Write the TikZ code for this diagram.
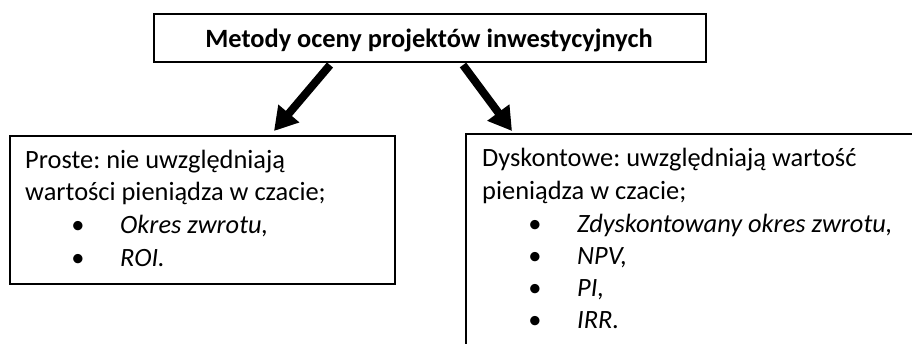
\documentclass[tikz,border=0pt]{standalone}
\usepackage{fontspec}
\setmainfont{Carlito}
\usetikzlibrary{arrows.meta}
\newcommand{\bodysize}{\fontsize{26.4}{33}\selectfont}
\frenchspacing
\begin{document}
\begin{tikzpicture}[x=1pt,y=-1pt,
  box/.style={draw,line width=1.5pt,inner sep=0pt,anchor=north west},
  txt/.style={anchor=base west,inner sep=0pt,font=\bodysize},
  item/.style={anchor=base west,inner sep=0pt,font=\bodysize\itshape},
  dot/.style={anchor=base,inner sep=0pt,font=\bodysize},
  bigarrow/.style={line width=8pt,-{Triangle[width=26pt,length=23pt]}}]
\useasboundingbox (0,0) rectangle (912,343);
\clip (0,0) rectangle (912,343);

% heading box
\node[box,minimum width=552pt,minimum height=48pt] (top) at (153,13) {};
\node[anchor=base,inner sep=0pt,font=\bodysize\bfseries] (title) at (429,47)
  {Metody oceny projektów inwestycyjnych};

% left box: simple methods
\node[box,minimum width=385pt,minimum height=148pt] (left) at (9,135) {};
\node[txt] (l1) at (25,168) {Proste: nie uwzględniają};
\node[txt] (l2) at (25,200) {wartości pieniądza w czacie;};
\node[dot] (lb3) at (78,233) {•};
\node[item] (l3) at (120,233) {Okres zwrotu,};
\node[dot] (lb4) at (78,266) {•};
\node[item] (l4) at (120,266) {ROI.};

% right box: discounted methods (runs past the page edge)
\node[box,minimum width=470pt,minimum height=240pt] (right) at (465,133) {};
\node[txt] (r1) at (482,166) {Dyskontowe: uwzględniają wartość};
\node[txt] (r2) at (482,199) {pieniądza w czacie;};
\node[dot] (rb3) at (535,232) {•};
\node[item] (r3) at (577,232) {Zdyskontowany okres zwrotu,};
\node[dot] (rb4) at (535,264) {•};
\node[item] (r4) at (577,264) {NPV,};
\node[dot] (rb5) at (535,296) {•};
\node[item] (r5) at (577,296) {PI,};
\node[dot] (rb6) at (535,328) {•};
\node[item] (r6) at (577,328) {IRR.};

% arrows from the heading down to both boxes
\coordinate (a1s) at (330,65);
\coordinate (a1e) at (274,131);
\coordinate (a2s) at (463,65);
\coordinate (a2e) at (512,131);
\draw[bigarrow] (a1s) -- (a1e);
\draw[bigarrow] (a2s) -- (a2e);
\end{tikzpicture}
\end{document}
